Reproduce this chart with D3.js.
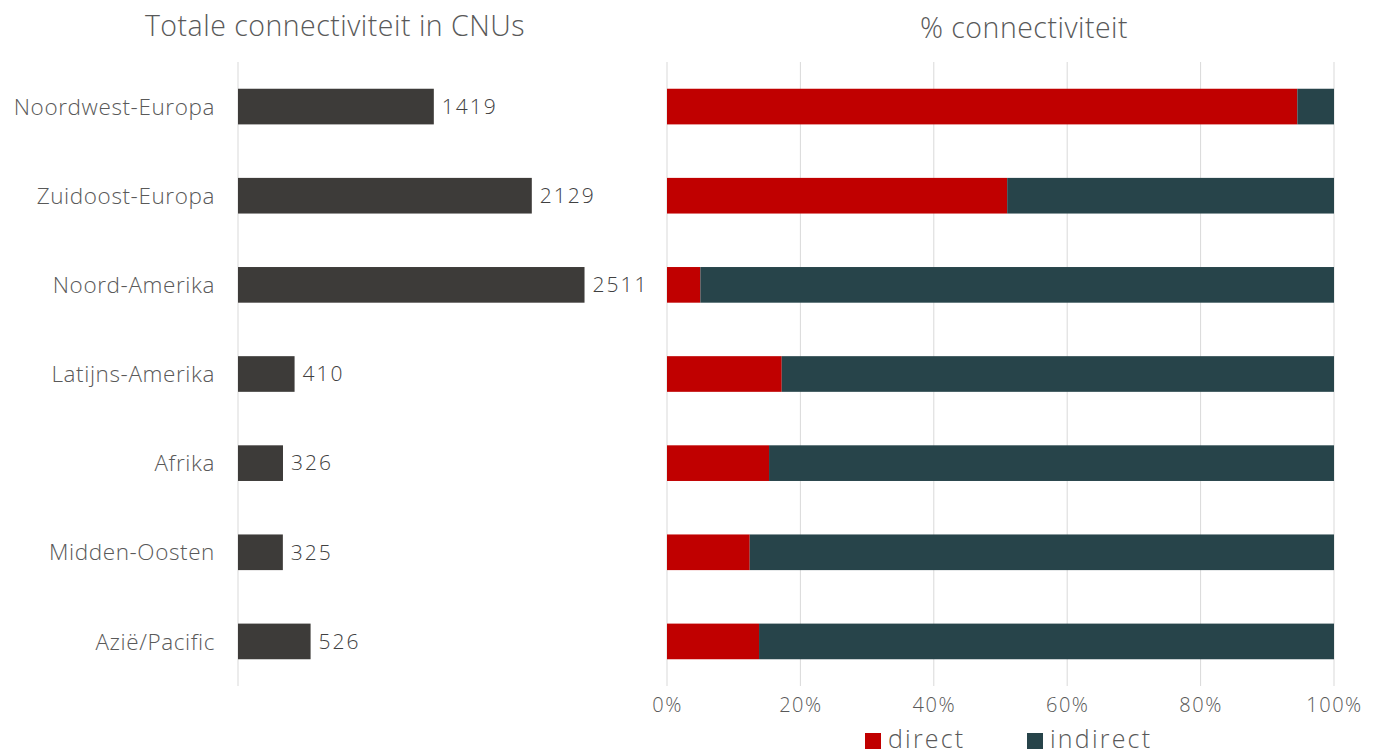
<!DOCTYPE html>
<html><head><meta charset="utf-8">
<script src="https://cdn.jsdelivr.net/npm/d3@7"></script>
<style>body{margin:0;background:#fff;} text{font-family:"Open Sans", sans-serif; font-weight:300;}</style>
</head><body>
<svg id="c" width="1380" height="755"></svg>
<script>
const categories = ["Noordwest-Europa","Zuidoost-Europa","Noord-Amerika","Latijns-Amerika","Afrika","Midden-Oosten","Azië/Pacific"];
const totals = [1419,2129,2511,410,326,325,526];
const directPct = [94.5,51.0,5.0,17.2,15.3,12.4,13.8];
const indirectPct = directPct.map(d => 100 - d);
const pctTicks = [0,20,40,60,80,100];
const seriesNames = ["direct","indirect"];
const colors = {direct:"#c00000", indirect:"#27444a"};

const svg = d3.select("#c");
const y = d3.scaleBand().domain(categories).range([62,686]).paddingInner(0.6).paddingOuter(0.3);

// Left chart
const xL = d3.scaleLinear().domain([0,3000]).range([238,652]);
svg.append("text").attr("x",335).attr("y",36).attr("text-anchor","middle")
  .attr("font-size",28.5).attr("letter-spacing",0.5).attr("fill","#595959").text("Totale connectiviteit in CNUs");
svg.append("line").attr("x1",xL(0)).attr("x2",xL(0)).attr("y1",62).attr("y2",686).attr("stroke","#d9d9d9");
svg.selectAll(".lbar").data(categories).join("rect")
  .attr("x",xL(0)).attr("y",d=>y(d)).attr("height",y.bandwidth())
  .attr("width",(d,i)=>xL(totals[i])-xL(0)).attr("fill","#3d3b39");
svg.selectAll(".lval").data(categories).join("text")
  .attr("x",(d,i)=>xL(totals[i])+8).attr("y",d=>y(d)+y.bandwidth()/2).attr("dy","0.35em")
  .attr("font-size",21).attr("letter-spacing",2).attr("fill","#404040").text((d,i)=>totals[i]);
svg.selectAll(".cat").data(categories).join("text")
  .attr("x",215).attr("y",d=>y(d)+y.bandwidth()/2).attr("dy","0.36em").attr("text-anchor","end")
  .attr("font-size",22.5).attr("letter-spacing",0.6).attr("fill","#595959").text(d=>d);

// Right chart
const xR = d3.scaleLinear().domain([0,100]).range([667,1334]);
svg.append("text").attr("x",1024).attr("y",38).attr("text-anchor","middle")
  .attr("font-size",28.5).attr("letter-spacing",0.5).attr("fill","#595959").text("% connectiviteit");
svg.selectAll(".grid").data(pctTicks).join("line")
  .attr("x1",d=>xR(d)).attr("x2",d=>xR(d)).attr("y1",62).attr("y2",686).attr("stroke","#d9d9d9");
svg.selectAll(".dbar").data(categories).join("rect")
  .attr("x",xR(0)).attr("y",d=>y(d)).attr("height",y.bandwidth())
  .attr("width",(d,i)=>xR(directPct[i])-xR(0)).attr("fill",colors.direct);
svg.selectAll(".ibar").data(categories).join("rect")
  .attr("x",(d,i)=>xR(directPct[i])).attr("y",d=>y(d)).attr("height",y.bandwidth())
  .attr("width",(d,i)=>xR(directPct[i]+indirectPct[i])-xR(directPct[i])).attr("fill",colors.indirect);
const ax = svg.append("g").attr("transform","translate(0,686)")
  .call(d3.axisBottom(xR).tickValues(pctTicks).tickFormat(d=>d+"%").tickSize(0).tickPadding(12));
ax.select(".domain").remove();
ax.selectAll("text").attr("font-size",20).attr("letter-spacing",1.5).attr("fill","#595959")
  .attr("font-family","'Open Sans', sans-serif").attr("font-weight",300);

// Legend
const leg = svg.append("g");
const legX = [865,1027];
seriesNames.forEach((s,i)=>{
  leg.append("rect").attr("x",legX[i]).attr("y",733).attr("width",16).attr("height",16).attr("fill",colors[s]);
  leg.append("text").attr("x",legX[i]+23).attr("y",748).attr("font-size",25).attr("letter-spacing",2.2)
    .attr("fill","#595959").text(s);
});
</script>
</body></html>
